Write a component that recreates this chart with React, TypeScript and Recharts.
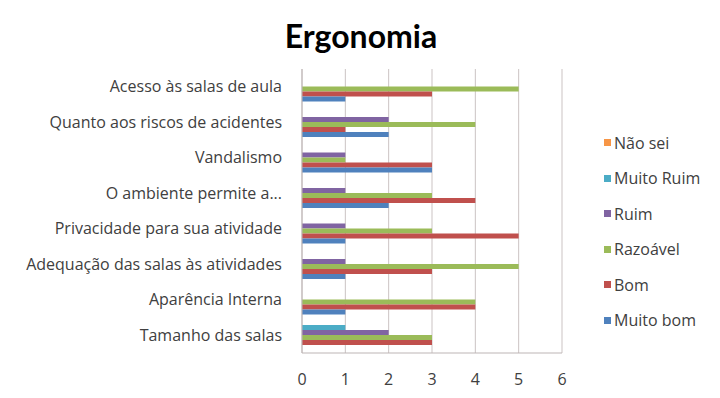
import React from "react";
import { BarChart, Bar, XAxis, YAxis, CartesianGrid } from "recharts";

// Survey items, top to bottom
const categories = [
  "Acesso às salas de aula",
  "Quanto aos riscos de acidentes",
  "Vandalismo",
  "O ambiente permite a...",
  "Privacidade para sua atividade",
  "Adequação das salas às atividades",
  "Aparência Interna",
  "Tamanho das salas",
];

// Answer counts per rating
const naoSei = [0, 0, 0, 0, 0, 0, 0, 0];
const muitoRuim = [0, 0, 0, 0, 0, 0, 0, 1];
const ruim = [0, 2, 1, 1, 1, 1, 0, 2];
const razoavel = [5, 4, 1, 3, 3, 5, 4, 3];
const bom = [3, 1, 3, 4, 5, 3, 4, 3];
const muitoBom = [1, 2, 3, 2, 1, 1, 1, 0];

const xTicks = [0, 1, 2, 3, 4, 5, 6];

const series = [
  { key: "naoSei", name: "Não sei", color: "#F79646", values: naoSei },
  { key: "muitoRuim", name: "Muito Ruim", color: "#4BACC6", values: muitoRuim },
  { key: "ruim", name: "Ruim", color: "#8064A2", values: ruim },
  { key: "razoavel", name: "Razoável", color: "#9BBB59", values: razoavel },
  { key: "bom", name: "Bom", color: "#C0504D", values: bom },
  { key: "muitoBom", name: "Muito bom", color: "#4F81BD", values: muitoBom },
];

const data = categories.map((cat, i) => {
  const row: Record<string, string | number> = { cat };
  series.forEach((s) => {
    row[s.key] = s.values[i];
  });
  return row;
});

const FONT = "'Open Sans', Lato, sans-serif";
const TEXT = "#404040";

export default function App() {
  return (
    <div style={{ position: "relative", width: 712, height: 390, background: "#fff", fontFamily: FONT }}>
      <div
        style={{
          position: "absolute",
          left: 0,
          width: 706,
          top: 8,
          textAlign: "center",
          fontSize: 32,
          fontWeight: 700,
          fontFamily: "Lato, sans-serif",
          color: "#000",
        }}
      >
        Ergonomia
      </div>
      <BarChart
        width={712}
        height={390}
        data={data}
        layout="vertical"
        margin={{ top: 61, right: 158, bottom: 0, left: 0 }}
        barCategoryGap="7%"
        barGap={0}
      >
        <CartesianGrid horizontal={false} vertical stroke="#CBC3C3" />
        <XAxis
          type="number"
          domain={[0, 6]}
          ticks={xTicks}
          interval={0}
          height={45}
          tickLine={false}
          tickSize={0}
          tickMargin={21}
          axisLine={{ stroke: "#BDB5B5" }}
          tick={{ fill: TEXT, fontSize: 16, fontFamily: FONT }}
        />
        <YAxis
          type="category"
          dataKey="cat"
          width={294}
          tickLine={false}
          tickSize={0}
          tickMargin={20}
          interval={0}
          axisLine={{ stroke: "#BDB5B5" }}
          tick={{ fill: TEXT, fontSize: 16, fontFamily: FONT }}
        />
        {series.map((s) => (
          <Bar key={s.key} dataKey={s.key} name={s.name} fill={s.color} isAnimationActive={false} />
        ))}
      </BarChart>
      <div style={{ position: "absolute", left: 596, top: 117 }}>
        {series.map((s) => (
          <div
            key={s.key}
            style={{ display: "flex", alignItems: "center", height: 35.5, fontSize: 16, color: TEXT }}
          >
            <span style={{ display: "inline-block", width: 7, height: 7, background: s.color, marginRight: 3 }} />
            {s.name}
          </div>
        ))}
      </div>
    </div>
  );
}
